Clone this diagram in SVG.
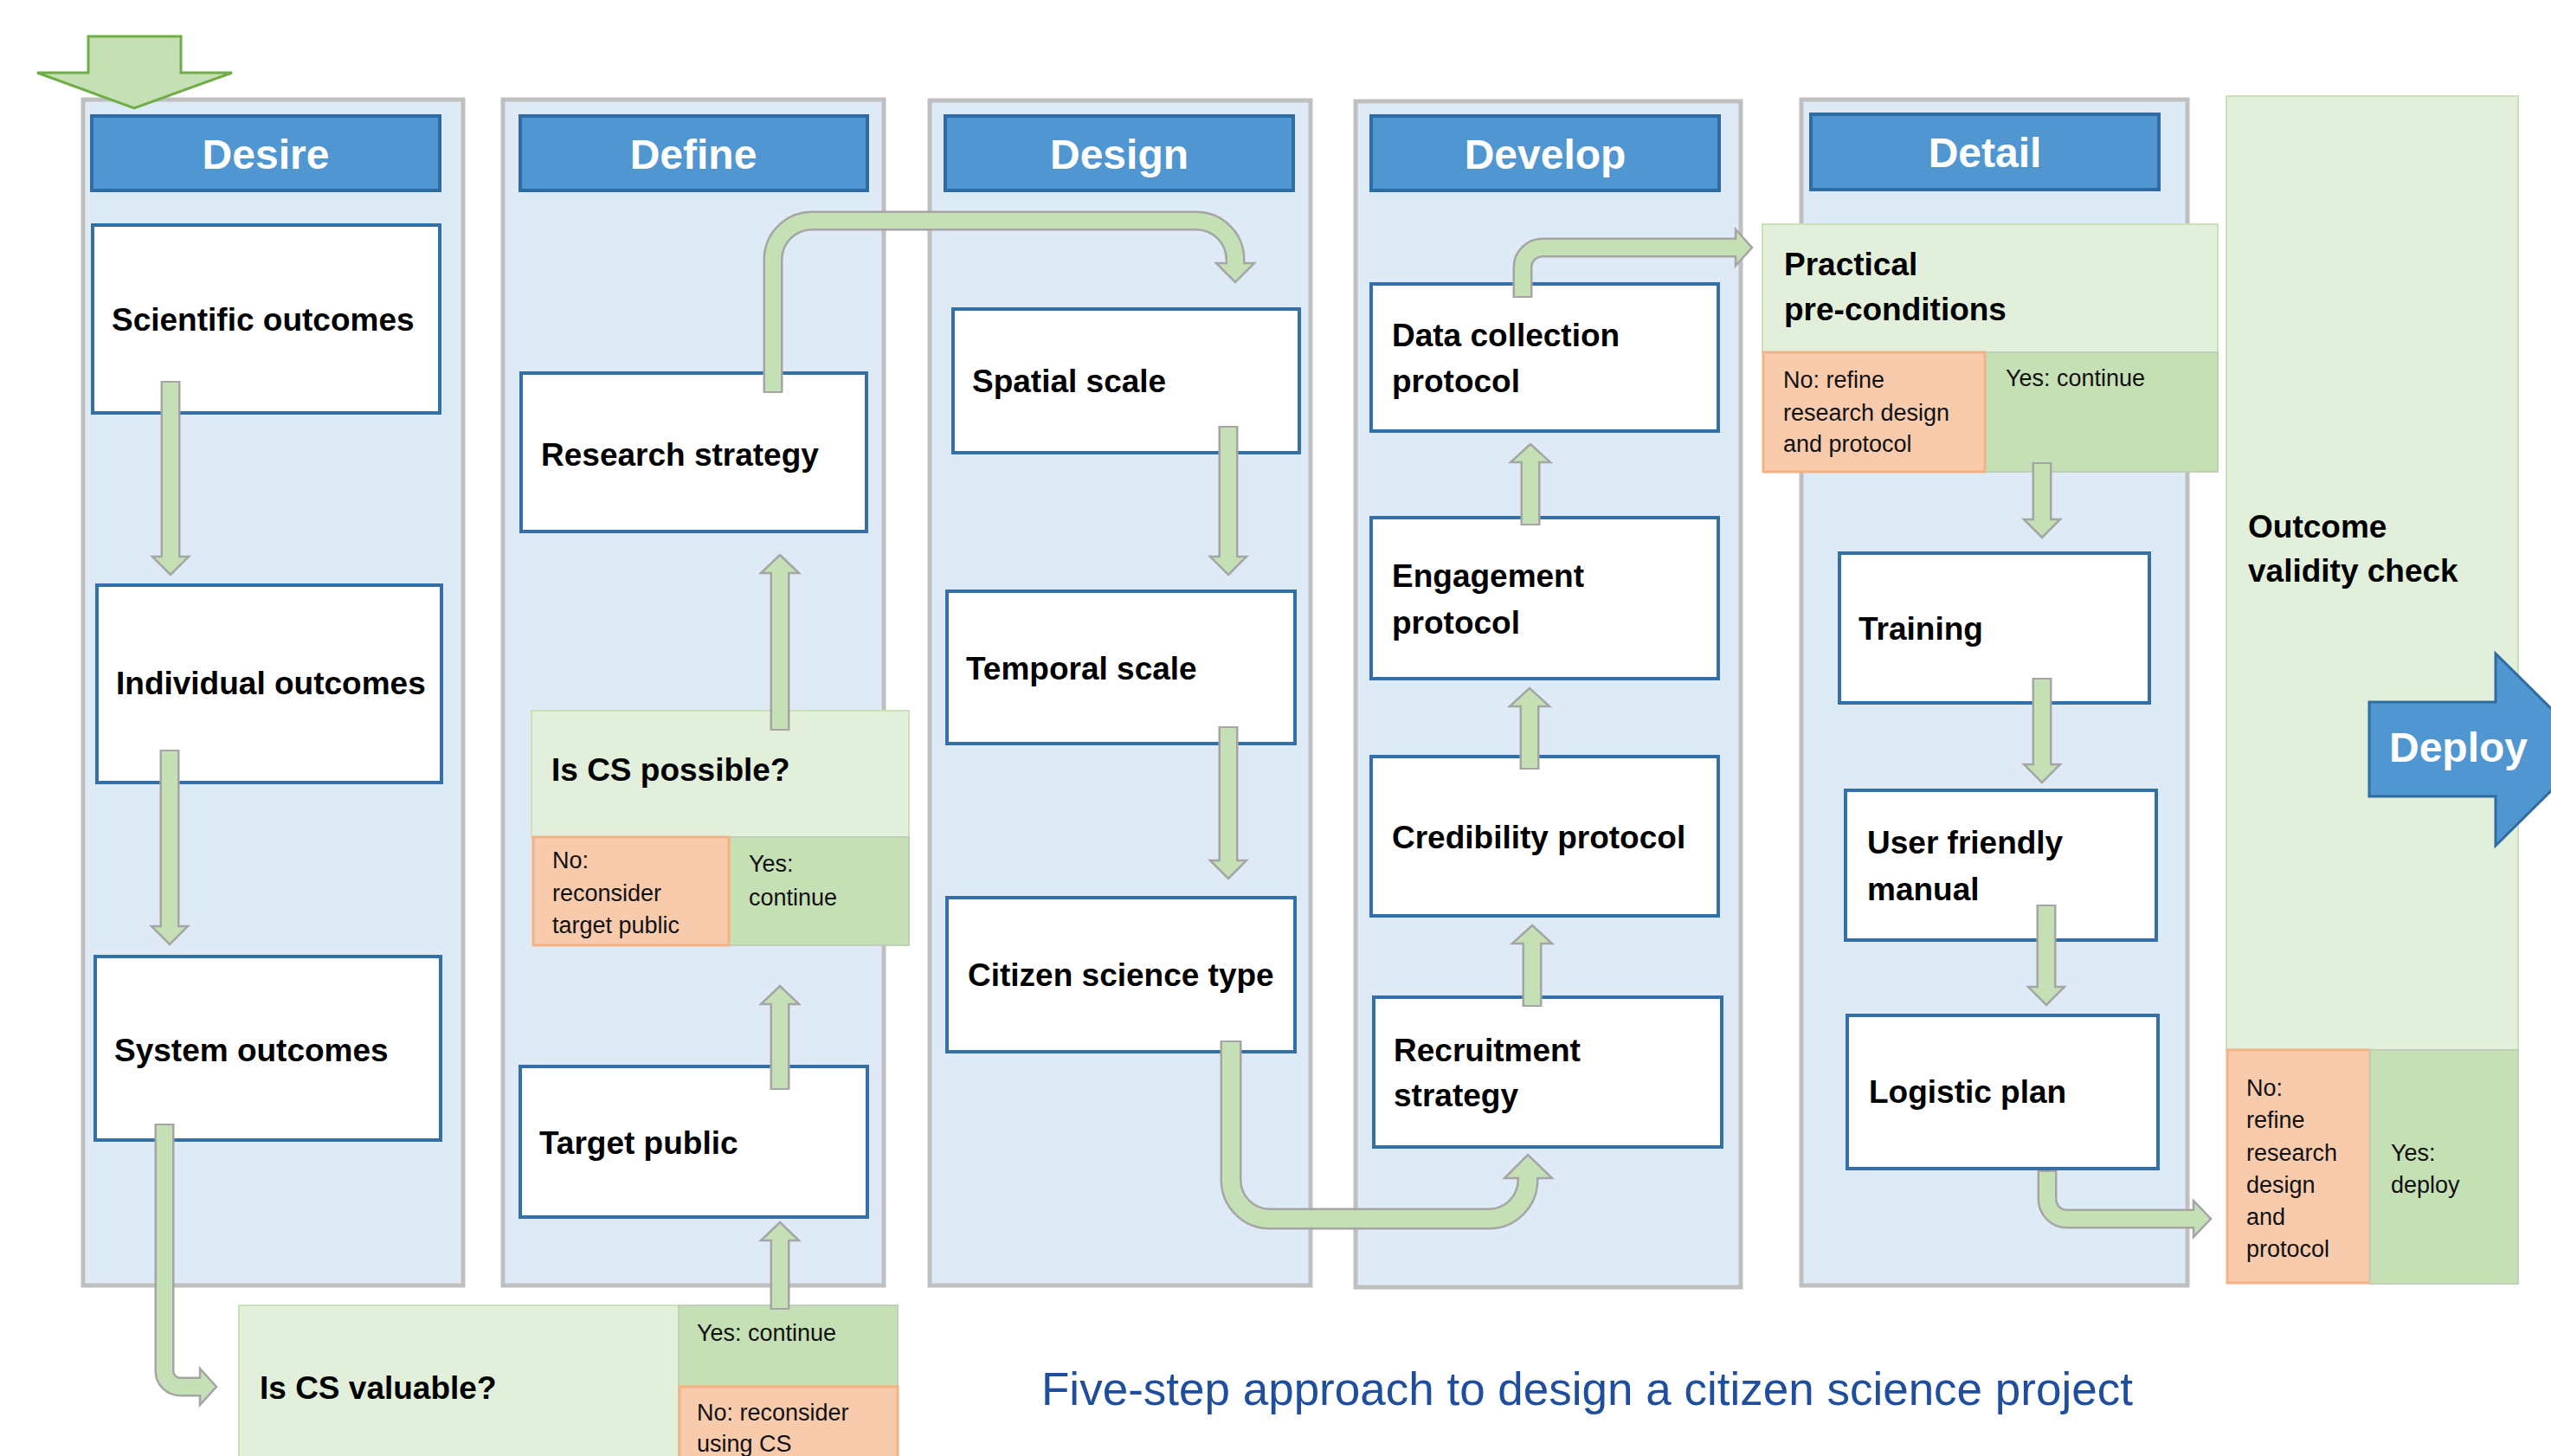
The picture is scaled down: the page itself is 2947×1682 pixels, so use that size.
<svg xmlns="http://www.w3.org/2000/svg" width="2947" height="1682" viewBox="0 0 2947 1682">
<style>
text{font-family:"Liberation Sans",Arial,sans-serif;}
.panel{fill:#DEEBF7;stroke:#BFBFBF;stroke-width:5;}
.hdr{fill:#5096D1;stroke:#2F6CA3;stroke-width:4;}
.hdrt{fill:#FFFFFF;font-size:48px;font-weight:bold;text-anchor:middle;}
.box{fill:#FFFFFF;stroke:#3470A8;stroke-width:4;}
.bt{fill:#000000;font-size:37px;font-weight:bold;}
.st{fill:#111111;font-size:27px;}
.q{fill:#E2EFDA;stroke:#C9E2B8;stroke-width:2;}
.yes{fill:#C5E0B4;stroke:#C0CFB5;stroke-width:2;}
.no{fill:#F8CBAD;stroke:#F4B183;stroke-width:3;}
.sg{fill:none;stroke:#A5A5A5;stroke-width:23;}
.sf{fill:none;stroke:#C5E0B4;stroke-width:18;}
.hd{fill:#C5E0B4;stroke:#A5A5A5;stroke-width:2.5;stroke-linejoin:miter;}
</style>
<rect width="2947" height="1682" fill="#FFFFFF"/>

<g id="panels">
<rect class="panel" x="96" y="115" width="439" height="1370"/>
<rect class="panel" x="581" y="115" width="440" height="1370"/>
<rect class="panel" x="1074" y="116" width="440" height="1369"/>
<rect class="panel" x="1566" y="117" width="445" height="1370"/>
<rect class="panel" x="2081" y="115" width="446" height="1370"/>
</g>

<g id="outcome-validity-check">
<rect x="2572" y="111" width="337" height="1102" fill="#E2EFDA" stroke="#C9E2B8" stroke-width="2"/>
<rect class="no" x="2573" y="1213" width="165" height="269"/>
<rect class="yes" x="2738" y="1213" width="171" height="270"/>
<text class="bt" x="2597" y="621">Outcome</text>
<text class="bt" x="2597" y="672">validity check</text>
<text class="st" x="2595" y="1266">No:</text>
<text class="st" x="2595" y="1303">refine</text>
<text class="st" x="2595" y="1341">research</text>
<text class="st" x="2595" y="1378">design</text>
<text class="st" x="2595" y="1415">and</text>
<text class="st" x="2595" y="1452">protocol</text>
<text class="st" x="2762" y="1341">Yes:</text>
<text class="st" x="2762" y="1378">deploy</text>
</g>

<g id="header-desire"><rect class="hdr" x="106" y="134" width="402" height="86"/><text class="hdrt" x="307" y="195">Desire</text></g>
<g id="header-define"><rect class="hdr" x="601" y="134" width="401" height="86"/><text class="hdrt" x="801" y="195">Define</text></g>
<g id="header-design"><rect class="hdr" x="1092" y="134" width="402" height="86"/><text class="hdrt" x="1293" y="195">Design</text></g>
<g id="header-develop"><rect class="hdr" x="1584" y="134" width="402" height="86"/><text class="hdrt" x="1785" y="195">Develop</text></g>
<g id="header-detail"><rect class="hdr" x="2092" y="132" width="402" height="87"/><text class="hdrt" x="2293" y="193">Detail</text></g>

<g id="scientific-outcomes"><rect class="box" x="107" y="260" width="401" height="217"/><text class="bt" x="129" y="382">Scientific outcomes</text></g>
<g id="individual-outcomes"><rect class="box" x="112" y="676" width="398" height="228"/><text class="bt" x="134" y="802">Individual outcomes</text></g>
<g id="system-outcomes"><rect class="box" x="110" y="1105" width="399" height="212"/><text class="bt" x="132" y="1226">System outcomes</text></g>

<g id="research-strategy"><rect class="box" x="602" y="431" width="399" height="183"/><text class="bt" x="625" y="538">Research strategy</text></g>
<g id="is-cs-possible">
<rect class="q" x="614" y="821" width="436" height="146"/>
<rect class="yes" x="842" y="967" width="208" height="125"/>
<rect class="no" x="616" y="967" width="226" height="125"/>
<text class="bt" x="637" y="902">Is CS possible?</text>
<text class="st" x="638" y="1003">No:</text>
<text class="st" x="638" y="1041">reconsider</text>
<text class="st" x="638" y="1078">target public</text>
<text class="st" x="865" y="1007">Yes:</text>
<text class="st" x="865" y="1046">continue</text>
</g>
<g id="target-public"><rect class="box" x="601" y="1232" width="401" height="174"/><text class="bt" x="623" y="1333">Target public</text></g>
<g id="is-cs-valuable">
<rect class="q" x="276" y="1508" width="508" height="185"/>
<rect class="yes" x="784" y="1508" width="253" height="94"/>
<rect class="no" x="785" y="1602" width="252" height="92"/>
<text class="bt" x="300" y="1616">Is CS valuable?</text>
<text class="st" x="805" y="1549">Yes: continue</text>
<text class="st" x="805" y="1641">No: reconsider</text>
<text class="st" x="805" y="1677">using CS</text>
</g>

<g id="spatial-scale"><rect class="box" x="1101" y="357" width="400" height="166"/><text class="bt" x="1123" y="453">Spatial scale</text></g>
<g id="temporal-scale"><rect class="box" x="1094" y="683" width="402" height="176"/><text class="bt" x="1116" y="785">Temporal scale</text></g>
<g id="citizen-science-type"><rect class="box" x="1094" y="1037" width="402" height="178"/><text class="bt" x="1118" y="1139">Citizen science type</text></g>

<g id="data-collection-protocol"><rect class="box" x="1584" y="328" width="401" height="170"/><text class="bt" x="1608" y="400">Data collection</text><text class="bt" x="1608" y="453">protocol</text></g>
<g id="engagement-protocol"><rect class="box" x="1584" y="598" width="401" height="186"/><text class="bt" x="1608" y="678">Engagement</text><text class="bt" x="1608" y="732">protocol</text></g>
<g id="credibility-protocol"><rect class="box" x="1584" y="874" width="401" height="184"/><text class="bt" x="1608" y="980">Credibility protocol</text></g>
<g id="recruitment-strategy"><rect class="box" x="1587" y="1152" width="402" height="173"/><text class="bt" x="1610" y="1226">Recruitment</text><text class="bt" x="1610" y="1278">strategy</text></g>

<g id="practical-preconditions">
<rect class="q" x="2036" y="259" width="526" height="148"/>
<rect class="yes" x="2293" y="407" width="269" height="138"/>
<rect class="no" x="2037" y="407" width="256" height="138"/>
<text class="bt" x="2061" y="318">Practical</text>
<text class="bt" x="2061" y="370">pre-conditions</text>
<text class="st" x="2060" y="448">No: refine</text>
<text class="st" x="2060" y="486">research design</text>
<text class="st" x="2060" y="522">and protocol</text>
<text class="st" x="2317" y="446">Yes: continue</text>
</g>
<g id="training"><rect class="box" x="2125" y="639" width="358" height="173"/><text class="bt" x="2147" y="739">Training</text></g>
<g id="user-friendly-manual"><rect class="box" x="2132" y="913" width="359" height="173"/><text class="bt" x="2157" y="986">User friendly</text><text class="bt" x="2157" y="1040">manual</text></g>
<g id="logistic-plan"><rect class="box" x="2134" y="1173" width="359" height="177"/><text class="bt" x="2159" y="1274">Logistic plan</text></g>

<g id="start-arrow"><polygon points="102,42 209,42 209,84 268,84 155,125 43,84 102,84" fill="#C5E0B4" stroke="#70AD47" stroke-width="3"/></g>

<g id="deploy"><polygon points="2737,811 2883,811 2883,755 2995,866 2883,977 2883,920 2737,920" fill="#5096D1" stroke="#2F6CA3" stroke-width="3"/><text class="hdrt" x="2840" y="880">Deploy</text></g>

<g id="connectors">
<!-- Desire -->
<path class="sg" d="M197,440 V646"/><polygon class="hd" points="176,643 218,643 197,664"/><path class="sf" d="M197,442 V647"/>
<path class="sg" d="M196,866 V1073"/><polygon class="hd" points="175,1070 217,1070 196,1091"/><path class="sf" d="M196,868 V1074"/>
<path class="sg" d="M190,1298 V1584 A18,18 0 0 0 208,1602 H234"/><polygon class="hd" points="231,1581 250,1602 231,1623"/><path class="sf" d="M190,1300 V1584 A18,18 0 0 0 208,1602 H235"/>
<!-- Define -->
<path class="sg" d="M893,454 V300 A45,45 0 0 1 938,255 H1382 A45,45 0 0 1 1427,300 V307"/><polygon class="hd" points="1405,304 1449,304 1427,326"/><path class="sf" d="M893,452 V300 A45,45 0 0 1 938,255 H1382 A45,45 0 0 1 1427,300 V308"/>
<path class="sg" d="M901,844 V659"/><polygon class="hd" points="879,662 923,662 901,641"/><path class="sf" d="M901,842 V658"/>
<path class="sg" d="M901,1259 V1157"/><polygon class="hd" points="879,1160 923,1160 901,1139"/><path class="sf" d="M901,1257 V1156"/>
<path class="sg" d="M901,1513 V1430"/><polygon class="hd" points="879,1433 923,1433 901,1412"/><path class="sf" d="M901,1511 V1429"/>
<!-- Design -->
<path class="sg" d="M1419,492 V646"/><polygon class="hd" points="1398,643 1440,643 1419,664"/><path class="sf" d="M1419,494 V647"/>
<path class="sg" d="M1419,839 V997"/><polygon class="hd" points="1398,994 1440,994 1419,1015"/><path class="sf" d="M1419,841 V998"/>
<path class="sg" d="M1422,1202 V1363 A45,45 0 0 0 1467,1408 H1720 A45,45 0 0 0 1765,1363 V1358" style="stroke-width:25"/><polygon class="hd" points="1738,1361 1793,1361 1765,1334"/><path class="sf" d="M1422,1204 V1363 A45,45 0 0 0 1467,1408 H1720 A45,45 0 0 0 1765,1363 V1357" style="stroke-width:20"/>
<!-- Develop -->
<path class="sg" d="M1759,344 V309 A23,23 0 0 1 1782,286 H2008"/><polygon class="hd" points="2005,265 2024,286 2005,307"/><path class="sf" d="M1759,342 V309 A23,23 0 0 1 1782,286 H2009"/>
<path class="sg" d="M1768,607 V531"/><polygon class="hd" points="1745,534 1791,534 1768,513"/><path class="sf" d="M1768,605 V530"/>
<path class="sg" d="M1767,889 V813"/><polygon class="hd" points="1744,816 1790,816 1767,795"/><path class="sf" d="M1767,887 V812"/>
<path class="sg" d="M1770,1163 V1087"/><polygon class="hd" points="1747,1090 1793,1090 1770,1069"/><path class="sf" d="M1770,1161 V1086"/>
<!-- Detail -->
<path class="sg" d="M2359,534 V603"/><polygon class="hd" points="2338,600 2380,600 2359,621"/><path class="sf" d="M2359,536 V604"/>
<path class="sg" d="M2359,783 V886"/><polygon class="hd" points="2338,883 2380,883 2359,904"/><path class="sf" d="M2359,785 V887"/>
<path class="sg" d="M2364,1045 V1143"/><polygon class="hd" points="2343,1140 2385,1140 2364,1161"/><path class="sf" d="M2364,1047 V1144"/>
<path class="sg" d="M2365,1352 V1385 A23,23 0 0 0 2388,1408 H2537"/><polygon class="hd" points="2534,1387 2554,1408 2534,1429"/><path class="sf" d="M2365,1354 V1385 A23,23 0 0 0 2388,1408 H2538"/>
</g>

<g id="title"><text x="1203" y="1623" font-size="53" fill="#1F4E9C">Five-step approach to design a citizen science project</text></g>
</svg>
